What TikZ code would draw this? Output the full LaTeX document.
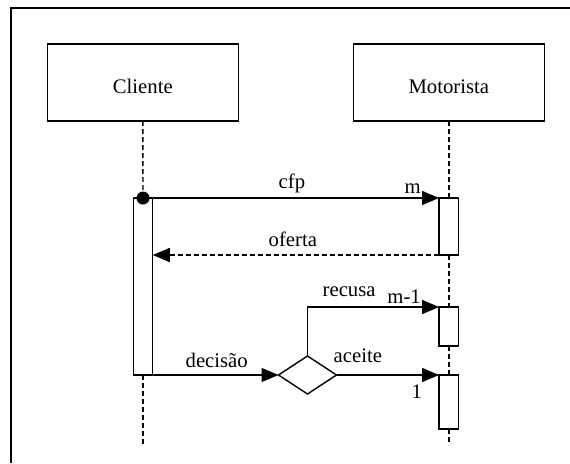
\documentclass[tikz,border=0pt]{standalone}
\usepackage{fontspec}
\setmainfont{Liberation Serif}
\usetikzlibrary{arrows.meta,shapes.geometric}
\begin{document}
\begin{tikzpicture}[x=1pt,y=-1pt,line width=1.4pt,
  every node/.style={font=\fontsize{20.7}{24}\selectfont},
  actor/.style={draw,minimum width=191pt,minimum height=77pt,inner sep=0pt,outer sep=0pt,text height=21.6pt,text depth=0pt},
  actbar/.style={draw,fill=white,minimum width=19.5pt,inner sep=0pt,outer sep=0pt},
  life/.style={dash pattern=on 5pt off 3pt,line width=1.4pt},
  msg/.style={-{Triangle[length=17pt,width=14pt]}},
  lbl/.style={anchor=base west,inner sep=0pt}]
\useasboundingbox (0,0) rectangle (570,463);
\draw[line width=1.6pt] (11,463) -- (11,8) -- (570,8);
% actors
\node[actor] (cli) at (142.8,82.5) {Cliente};
\node[actor] (mot) at (448.8,82.5) {Motorista};
% lifelines
\coordinate (cend) at (143,445);
\coordinate (mend) at (448.8,445);
\node[actbar,minimum height=177pt] (cb) at (143,286.5) {};
\node[actbar,minimum height=57pt] (m1) at (448.8,226.5) {};
\node[actbar,minimum height=39pt] (m2) at (448.8,326.5) {};
\node[actbar,minimum height=54pt] (m3) at (448.8,402) {};
\draw[life] (cli.south) -- (cb.north);
\draw[life] (cb.south) -- (cend);
\draw[life] (mot.south) -- (m1.north);
\draw[life] (m1.south) -- (m2.north);
\draw[life] (m2.south) -- (m3.north);
\draw[life] (m3.south) -- (mend);
\node[circle,fill=black,inner sep=0pt,minimum size=13pt] (dot) at (cb.north) {};
% decision
\node[diamond,draw,fill=white,minimum width=58pt,minimum height=38pt,inner sep=0pt,outer sep=0pt] (d) at (307.5,375) {};
% messages
\draw[msg] (cb.north east) -- (m1.north west);
\draw[msg,dash pattern=on 5pt off 3pt] (m1.south west) -- (cb.east |- m1.south);
\draw[msg] (cb.south east) -- (d.west);
\draw[msg] (d.north) |- (m2.north west);
\draw[msg] (d.east) -- (m3.north west);
% labels
\node[lbl] (lcfp) at (278,188.3) {cfp};
\node[lbl] (lm) at (404,193) {m};
\node[lbl] (lof) at (268,246) {oferta};
\node[lbl] (lrec) at (322,296.7) {recusa};
\node[lbl] (lm1) at (386.7,303) {m-1};
\node[lbl] (ldec) at (185,367) {decisão};
\node[lbl] (lace) at (333,362.7) {aceite};
\node[lbl] (lone) at (411,398) {1};
\end{tikzpicture}
\end{document}
